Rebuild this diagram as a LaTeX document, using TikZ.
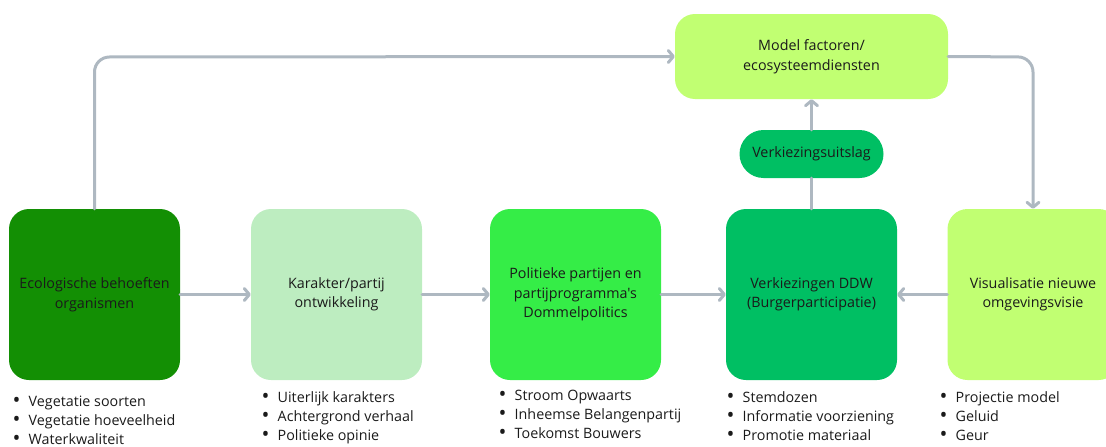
\documentclass[tikz,border=0pt]{standalone}
\usepackage{fontspec}
\setmainfont{Open Sans}[Ligatures=TeXOff]
\usetikzlibrary{arrows.meta}
\definecolor{cEco}{HTML}{138F04}
\definecolor{cKar}{HTML}{BDEDC0}
\definecolor{cPol}{HTML}{35ED47}
\definecolor{cVer}{HTML}{00BF63}
\definecolor{cMod}{HTML}{C1FF72}
\definecolor{cArr}{HTML}{AEB8C1}
\definecolor{cTxt}{HTML}{1A1A1A}
\newcommand{\bul}{\makebox[16pt][l]{\raisebox{-1.6pt}{\fontsize{21}{21}\selectfont •}}}
\begin{document}
\begin{tikzpicture}[x=1pt,y=-1pt,
  box/.style={minimum width=171pt,minimum height=171pt,rounded corners=20pt,inner sep=0pt,
    align=center,text=cTxt,font=\fontsize{14.3}{19.5}\selectfont},
  pill/.style={minimum width=144pt,minimum height=48pt,rounded corners=24pt,inner sep=0pt,
    align=center,text=cTxt,font=\fontsize{14.3}{19.5}\selectfont},
  modelbox/.style={minimum width=273pt,minimum height=85pt,rounded corners=20pt,inner sep=0pt,
    align=center,text=cTxt,font=\fontsize{14.3}{19.5}\selectfont},
  conn/.style={draw=cArr,line width=3pt,rounded corners=15pt,line cap=round},
  arr/.style={conn,-{Straight Barb[length=5pt,width=12pt,round]}},
  item/.style={anchor=base west,inner sep=0pt,text=cTxt,font=\fontsize{14.3}{16}\selectfont},
]
\useasboundingbox (0,0) rectangle (1106,447);
\clip (0,0) rectangle (1106,447);

% boxes
\node[box,fill=cEco] (eco) at (94.5,294.5) {Ecologische behoeften\\organismen};
\node[box,fill=cKar] (kar) at (336.5,294.5) {Karakter/partij\\ontwikkeling};
\node[box,fill=cPol] (pol) at (575.5,294.5) {Politieke partijen en\\partijprogramma's\\Dommelpolitics};
\node[box,fill=cVer] (ver) at (811.5,294.5) {Verkiezingen DDW\\(Burgerparticipatie)};
\node[box,fill=cMod] (vis) at (1033,294.5) {Visualisatie nieuwe\\omgevingsvisie};
\node[modelbox,fill=cMod] (mod) at (811.5,56.5) {Model factoren/\\ecosysteemdiensten};
\node[pill,fill=cVer] (uit) at (811.5,154) {Verkiezingsuitslag};

% connectors
\coordinate (c1) at (94.5,57);
\coordinate (c2) at (1033,57);
\draw[arr] (eco.north) -- (c1) -- (mod.west);
\draw[arr] (mod.east) -- (c2) -- (vis.north);
\draw[arr] (eco.east) -- (kar.west);
\draw[arr] (kar.east) -- (pol.west);
\draw[arr] (pol.east) -- (ver.west);
\draw[arr] (vis.west) -- (ver.east);
\draw[conn] (ver.north) -- (uit.south);
\draw[arr] (uit.north) -- (mod.south);

% bullet lists
\node[item] (a1) at (12.5,406) {\bul Vegetatie soorten};
\node[item] (a2) at (12.5,425) {\bul Vegetatie hoeveelheid};
\node[item] (a3) at (12.5,444) {\bul Waterkwaliteit};
\node[item] (b1) at (261.5,402) {\bul Uiterlijk karakters};
\node[item] (b2) at (261.5,421) {\bul Achtergrond verhaal};
\node[item] (b3) at (261.5,440) {\bul Politieke opinie};
\node[item] (p1) at (498.5,400) {\bul Stroom Opwaarts};
\node[item] (p2) at (498.5,419) {\bul Inheemse Belangenpartij};
\node[item] (p3) at (498.5,438) {\bul Toekomst Bouwers};
\node[item] (v1) at (726.5,402) {\bul Stemdozen};
\node[item] (v2) at (726.5,421) {\bul Informatie voorziening};
\node[item] (v3) at (726.5,440) {\bul Promotie materiaal};
\node[item] (w1) at (939.5,402) {\bul Projectie model};
\node[item] (w2) at (939.5,421) {\bul Geluid};
\node[item] (w3) at (939.5,440) {\bul Geur};
\end{tikzpicture}
\end{document}
